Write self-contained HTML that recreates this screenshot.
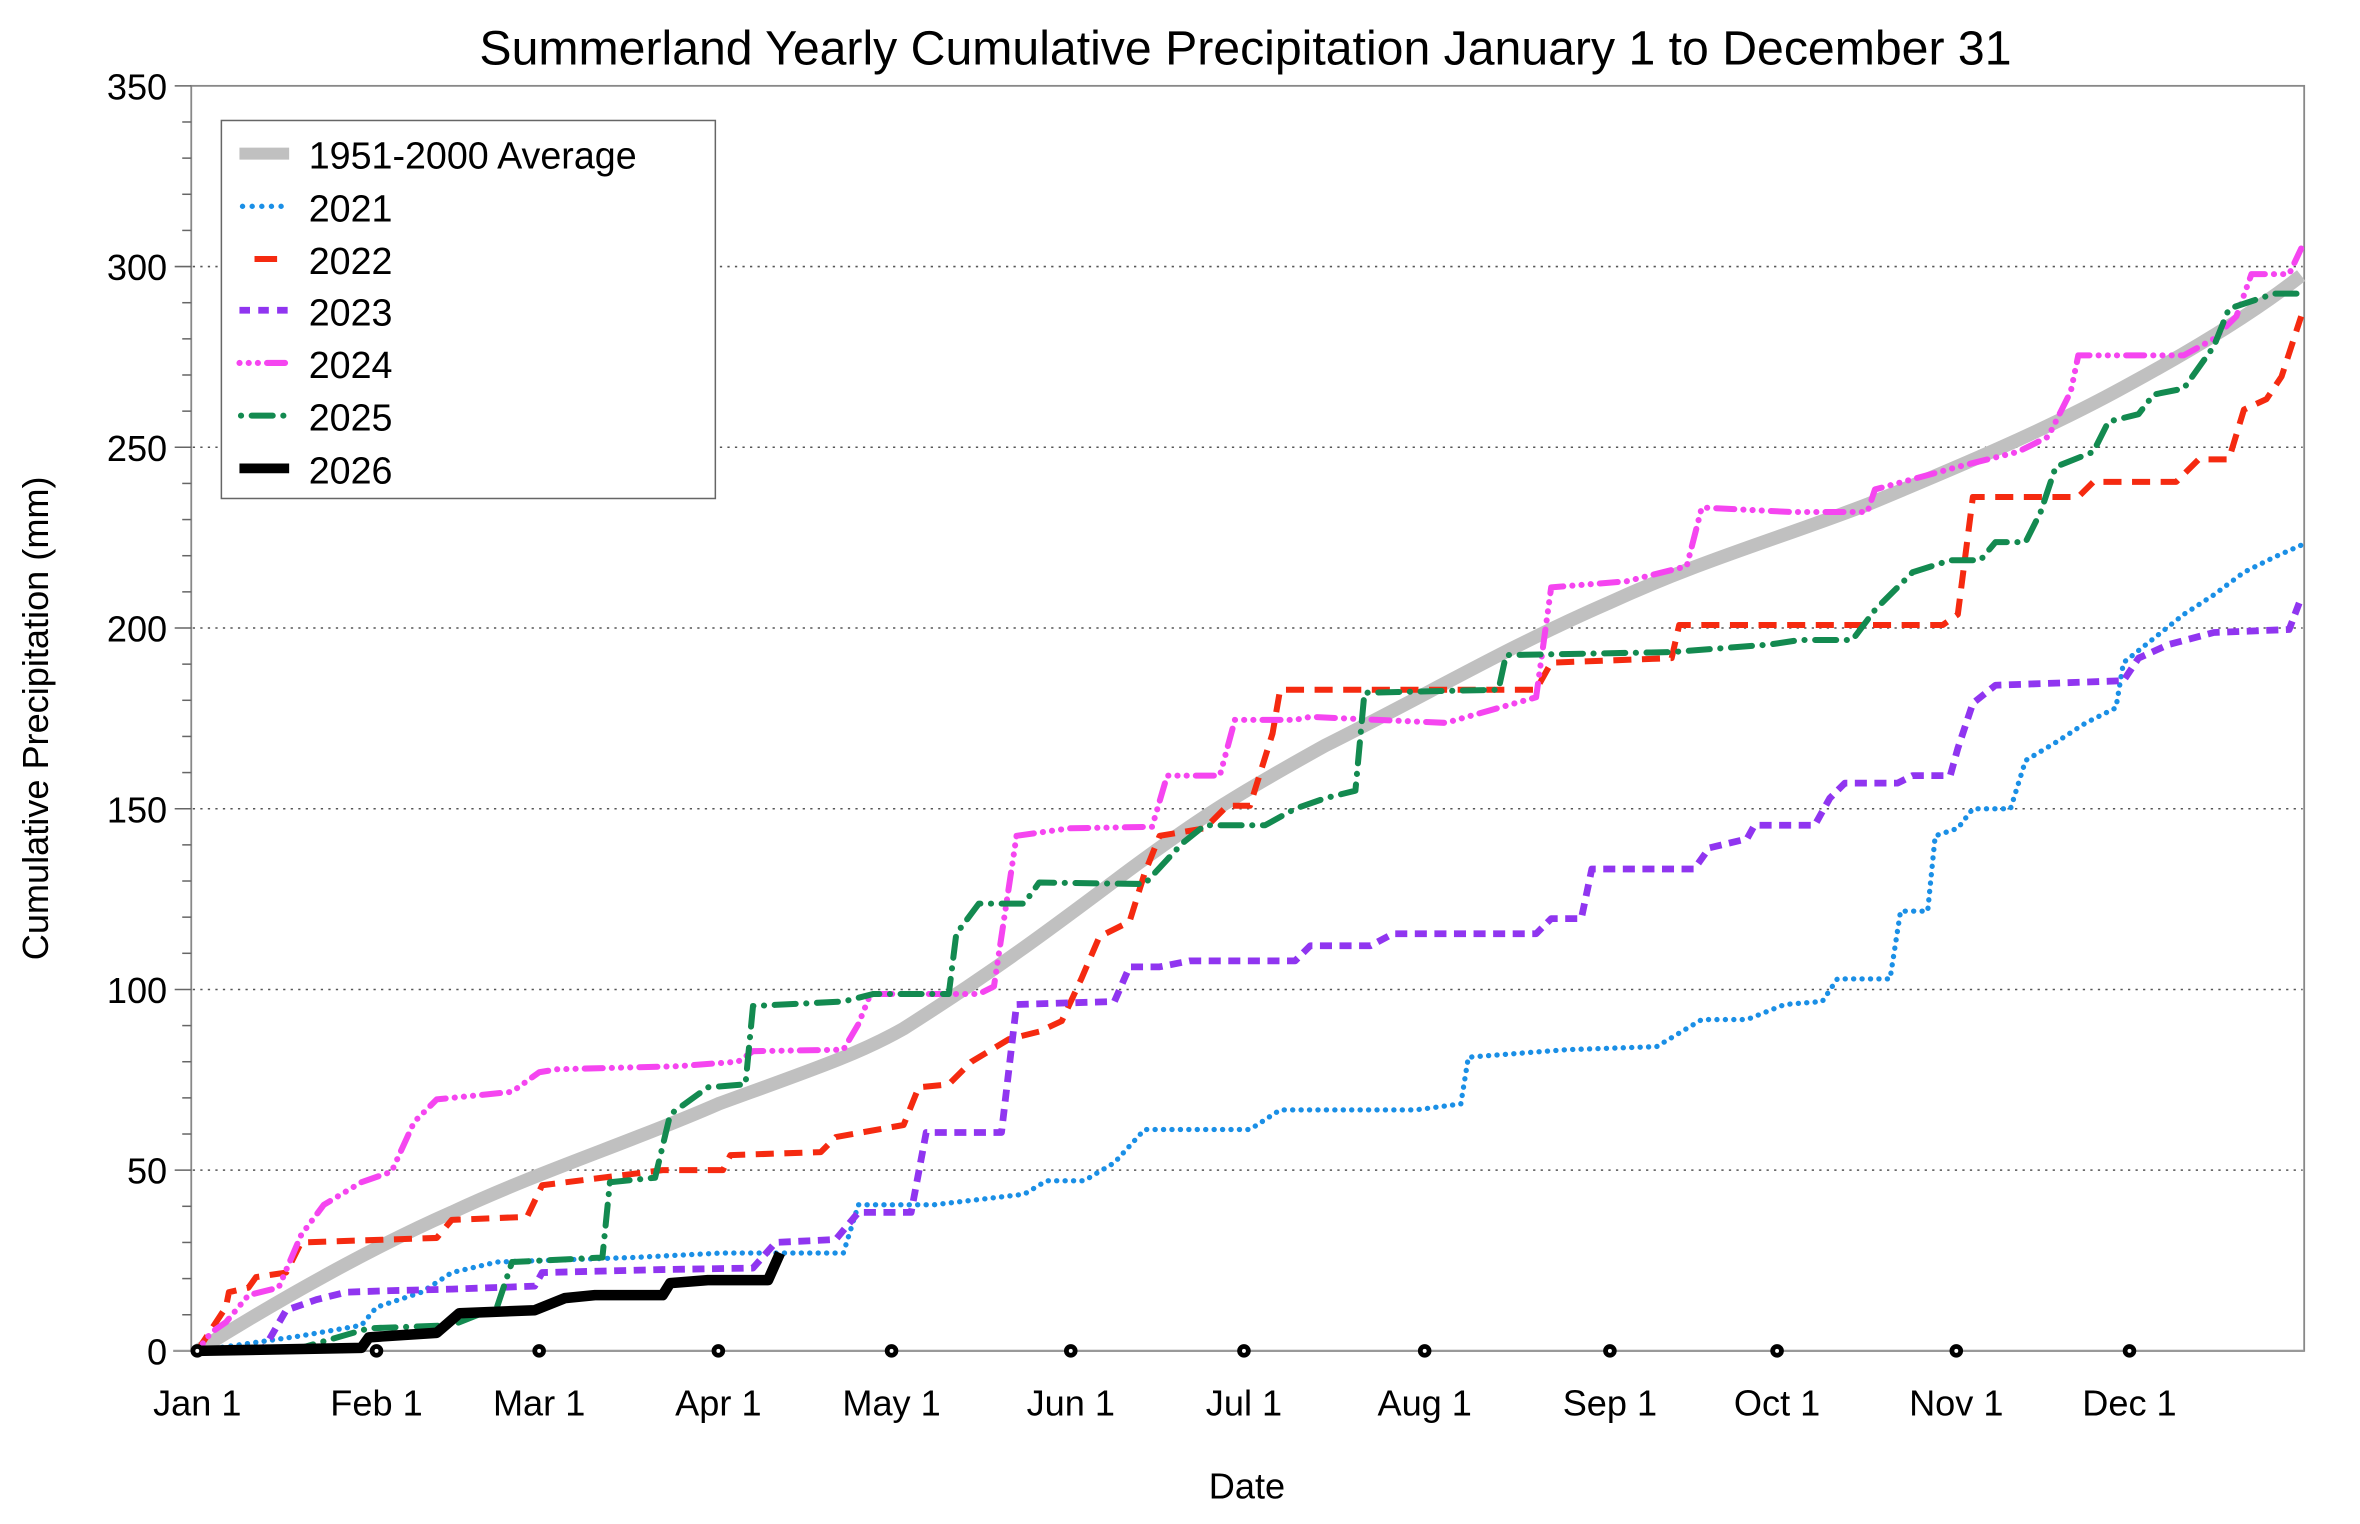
<!DOCTYPE html>
<html><head><meta charset="utf-8"><style>
html,body{margin:0;padding:0;background:#fff;}
svg{display:block;}
text{font-family:"Liberation Sans",Arial,sans-serif;fill:#000;}
</style></head><body>
<svg width="2360" height="1524" viewBox="0 0 2360 1524" xmlns="http://www.w3.org/2000/svg">
<g transform="scale(1.506)">
<text x="827" y="43" font-size="32" text-anchor="middle">Summerland Yearly Cumulative Precipitation January 1 to December 31</text>
<g stroke="#555" stroke-width="1" stroke-dasharray="1.5 3.5">
<line x1="128" y1="777" x2="1529" y2="777"/><line x1="128" y1="657" x2="1529" y2="657"/>
<line x1="128" y1="537" x2="1529" y2="537"/><line x1="128" y1="417" x2="1529" y2="417"/>
<line x1="128" y1="297" x2="1529" y2="297"/><line x1="128" y1="177" x2="1529" y2="177"/>
</g>
<rect x="127" y="57" width="1403" height="840" fill="none" stroke="#888" stroke-width="1.2"/>
<line x1="115" y1="897" x2="1530" y2="897" stroke="#999" stroke-width="1.5"/>
<g stroke="#666" stroke-width="1">
<line x1="116" y1="57" x2="127" y2="57"/><line x1="116" y1="177" x2="127" y2="177"/><line x1="116" y1="297" x2="127" y2="297"/><line x1="116" y1="417" x2="127" y2="417"/><line x1="116" y1="537" x2="127" y2="537"/><line x1="116" y1="657" x2="127" y2="657"/><line x1="116" y1="777" x2="127" y2="777"/>
<line x1="121" y1="81" x2="127" y2="81"/><line x1="121" y1="105" x2="127" y2="105"/><line x1="121" y1="129" x2="127" y2="129"/><line x1="121" y1="153" x2="127" y2="153"/>
<line x1="121" y1="201" x2="127" y2="201"/><line x1="121" y1="225" x2="127" y2="225"/><line x1="121" y1="249" x2="127" y2="249"/><line x1="121" y1="273" x2="127" y2="273"/>
<line x1="121" y1="321" x2="127" y2="321"/><line x1="121" y1="345" x2="127" y2="345"/><line x1="121" y1="369" x2="127" y2="369"/><line x1="121" y1="393" x2="127" y2="393"/>
<line x1="121" y1="441" x2="127" y2="441"/><line x1="121" y1="465" x2="127" y2="465"/><line x1="121" y1="489" x2="127" y2="489"/><line x1="121" y1="513" x2="127" y2="513"/>
<line x1="121" y1="561" x2="127" y2="561"/><line x1="121" y1="585" x2="127" y2="585"/><line x1="121" y1="609" x2="127" y2="609"/><line x1="121" y1="633" x2="127" y2="633"/>
<line x1="121" y1="681" x2="127" y2="681"/><line x1="121" y1="705" x2="127" y2="705"/><line x1="121" y1="729" x2="127" y2="729"/><line x1="121" y1="753" x2="127" y2="753"/>
<line x1="121" y1="801" x2="127" y2="801"/><line x1="121" y1="825" x2="127" y2="825"/><line x1="121" y1="849" x2="127" y2="849"/><line x1="121" y1="873" x2="127" y2="873"/>
</g>
<g font-size="24" text-anchor="end">
<text x="111" y="906">0</text><text x="111" y="786">50</text><text x="111" y="666">100</text><text x="111" y="546">150</text><text x="111" y="426">200</text><text x="111" y="306">250</text><text x="111" y="186">300</text><text x="111" y="66">350</text>
</g>
<text transform="translate(32,477) rotate(-90)" font-size="24" text-anchor="middle">Cumulative Precipitation (mm)</text>
<g font-size="24" text-anchor="middle">
<text x="131" y="940">Jan 1</text><text x="250" y="940">Feb 1</text><text x="358" y="940">Mar 1</text><text x="477" y="940">Apr 1</text><text x="592" y="940">May 1</text><text x="711" y="940">Jun 1</text><text x="826" y="940">Jul 1</text><text x="946" y="940">Aug 1</text><text x="1069" y="940">Sep 1</text><text x="1180" y="940">Oct 1</text><text x="1299" y="940">Nov 1</text><text x="1414" y="940">Dec 1</text>
<text x="828" y="995">Date</text>
</g>
<g fill="none" stroke-linejoin="round">
<path d="M131,897 C190,860 250,827 300,805 C360,777 420,758 477,733 C540,710 570,700 600,683 C660,645 700,615 740,585 C800,540 826,525 880,495 C950,460 1000,430 1069,400 C1130,372 1180,358 1240,335 C1300,310 1360,285 1414,255 C1460,230 1500,205 1528,183" stroke="#c0c0c0" stroke-width="9"/>
<path d="M131,897 L200,887 L240,880 L250,868 L280,858 L300,845 L330,838 L420,835 L480,832 L560,832 L570,800 L620,800 L680,793 L695,784 L720,784 L740,772 L760,750 L830,750 L850,737 L940,737 L970,733 L975,702 L1040,697 L1100,695 L1130,677 L1160,677 L1185,667 L1210,665 L1220,650 L1255,650 L1262,605 L1280,605 L1285,555 L1300,550 L1310,537 L1335,537 L1345,505 L1365,493 L1385,480 L1405,470 L1410,440 L1435,420 L1450,408 L1470,395 L1490,380 L1510,370 L1528,362" stroke="#1a8fe6" stroke-width="3.5" stroke-linecap="round" stroke-dasharray="0.1 5.5"/>
<path d="M131,897 L150,868 L152,858 L165,855 L170,848 L190,845 L200,825 L290,822 L300,810 L350,808 L360,787 L440,777 L480,777 L485,767 L545,765 L555,755 L600,747 L610,722 L630,720 L645,705 L670,690 L690,685 L705,678 L718,650 L730,622 L750,612 L760,580 L770,555 L800,550 L815,535 L830,535 L845,487 L850,458 L1020,458 L1030,440 L1110,437 L1115,415 L1290,415 L1300,408 L1310,330 L1380,330 L1390,320 L1445,320 L1460,305 L1480,305 L1490,272 L1505,265 L1515,250 L1528,210" stroke="#f52a10" stroke-width="4" stroke-dasharray="12 7"/>
<path d="M131,897 L175,896 L190,870 L210,863 L230,858 L260,857 L300,856 L355,854 L360,845 L440,843 L500,842 L515,825 L555,823 L570,805 L605,805 L615,752 L665,752 L675,667 L740,665 L750,642 L770,642 L790,638 L860,638 L870,628 L910,628 L925,620 L1020,620 L1030,610 L1050,610 L1057,577 L1125,577 L1135,563 L1160,557 L1165,548 L1205,548 L1215,530 L1225,520 L1260,520 L1270,515 L1295,515 L1300,497 L1310,467 L1325,455 L1410,452 L1420,437 L1440,428 L1470,420 L1520,418 L1528,397" stroke="#9035f0" stroke-width="4.5" stroke-dasharray="8 5"/>
<path d="M131,897 L140,885 L150,878 L165,860 L185,855 L200,820 L215,800 L240,785 L260,778 L275,745 L290,730 L340,725 L358,712 L370,710 L450,708 L490,705 L500,698 L560,697 L570,680 L578,660 L650,660 L660,655 L675,555 L710,550 L765,549 L775,515 L810,515 L820,478 L860,478 L870,476 L960,480 L1020,463 L1030,390 L1080,386 L1120,376 L1130,337 L1190,340 L1240,340 L1245,325 L1300,310 L1340,300 L1360,290 L1375,260 L1380,236 L1450,236 L1470,225 L1485,210 L1495,182 L1520,182 L1528,165" stroke="#f545f0" stroke-width="4" stroke-linecap="round" stroke-dasharray="0.1 6 0.1 6 0.1 6 12 6"/>
<path d="M131,897 L200,895 L245,882 L300,880 L330,868 L340,838 L400,835 L405,785 L435,782 L445,740 L470,722 L495,720 L500,668 L560,665 L580,660 L630,660 L635,620 L650,600 L680,600 L690,586 L760,587 L785,560 L800,548 L840,548 L860,537 L880,530 L900,525 L906,460 L995,458 L1000,435 L1110,433 L1175,428 L1195,425 L1230,425 L1245,405 L1270,380 L1295,372 L1315,372 L1325,360 L1345,360 L1355,340 L1365,310 L1390,300 L1400,280 L1420,275 L1430,262 L1450,258 L1470,230 L1480,205 L1510,195 L1528,195" stroke="#138a50" stroke-width="4" stroke-linecap="round" stroke-dasharray="0.1 7 14 7"/>
<path d="M131,897 L240,895 L245,888 L290,885 L305,872 L355,870 L375,862 L395,860 L440,860 L445,852 L470,850 L510,850 L518,832" stroke="#000" stroke-width="7"/>
</g>
<g fill="#000" stroke="#000" stroke-width="1">
<circle cx="131" cy="897" r="4"/><circle cx="250" cy="897" r="4"/><circle cx="358" cy="897" r="4"/><circle cx="477" cy="897" r="4"/><circle cx="592" cy="897" r="4"/><circle cx="711" cy="897" r="4"/><circle cx="826" cy="897" r="4"/><circle cx="946" cy="897" r="4"/><circle cx="1069" cy="897" r="4"/><circle cx="1180" cy="897" r="4"/><circle cx="1299" cy="897" r="4"/><circle cx="1414" cy="897" r="4"/>
</g>
<g fill="#fff">
<circle cx="131" cy="897" r="1.3"/><circle cx="250" cy="897" r="1.3"/><circle cx="358" cy="897" r="1.3"/><circle cx="477" cy="897" r="1.3"/><circle cx="592" cy="897" r="1.3"/><circle cx="711" cy="897" r="1.3"/><circle cx="826" cy="897" r="1.3"/><circle cx="946" cy="897" r="1.3"/><circle cx="1069" cy="897" r="1.3"/><circle cx="1180" cy="897" r="1.3"/><circle cx="1299" cy="897" r="1.3"/><circle cx="1414" cy="897" r="1.3"/>
</g>
<rect x="147" y="80" width="328" height="251" fill="#fff" stroke="#666" stroke-width="1"/>
<g fill="none">
<line x1="159" y1="102" x2="192" y2="102" stroke="#c0c0c0" stroke-width="8"/>
<line x1="161" y1="137" x2="192" y2="137" stroke="#1a8fe6" stroke-width="3.5" stroke-linecap="round" stroke-dasharray="0.1 6.3"/>
<line x1="169" y1="172" x2="184" y2="172" stroke="#f52a10" stroke-width="4"/>
<line x1="159" y1="206" x2="192" y2="206" stroke="#9035f0" stroke-width="4.5" stroke-dasharray="7 5.5"/>
<line x1="159" y1="241" x2="192" y2="241" stroke="#f545f0" stroke-width="4" stroke-linecap="round" stroke-dasharray="0.1 6 0.1 6 0.1 6 12 6"/>
<line x1="160" y1="276" x2="192" y2="276" stroke="#138a50" stroke-width="4" stroke-linecap="round" stroke-dasharray="0.1 7 14 7"/>
<line x1="159" y1="311" x2="192" y2="311" stroke="#000" stroke-width="6.5"/>
</g>
<g font-size="25">
<text x="205" y="112">1951-2000 Average</text><text x="205" y="147">2021</text><text x="205" y="182">2022</text><text x="205" y="216">2023</text><text x="205" y="251">2024</text><text x="205" y="286">2025</text><text x="205" y="321">2026</text>
</g>
</g>
</svg>
</body></html>
